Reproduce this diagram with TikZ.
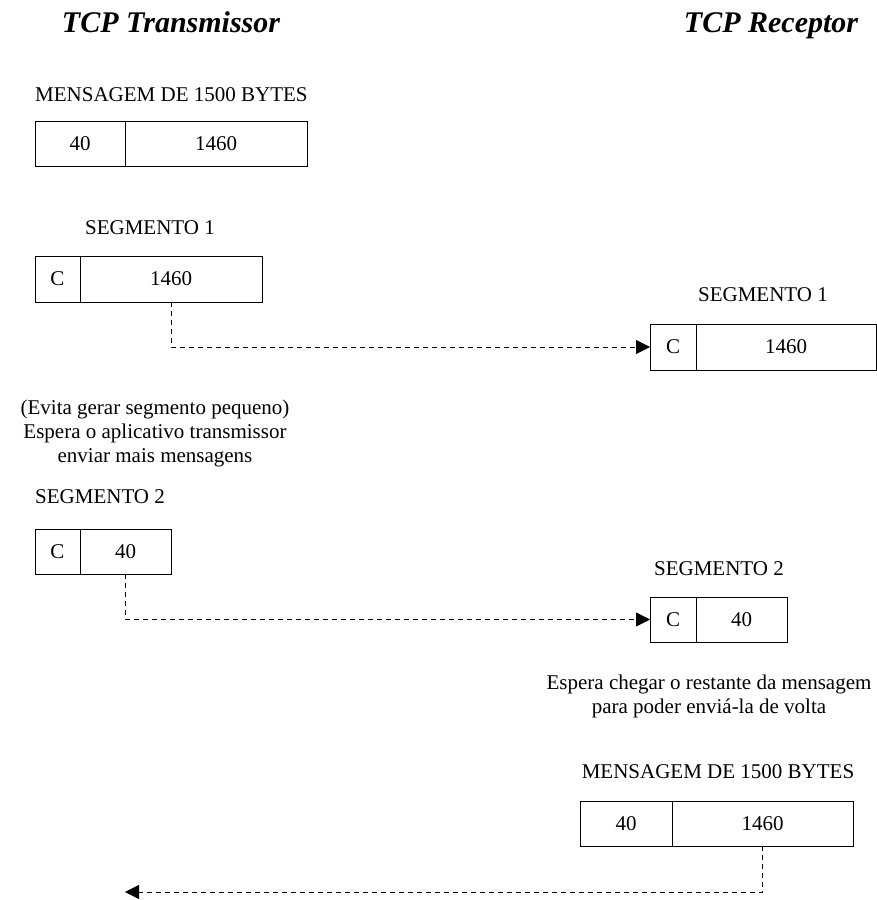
\documentclass[tikz,border=0pt]{standalone}
\usepackage{fontspec}
\setmainfont{Liberation Serif}
\usetikzlibrary{arrows.meta}
\begin{document}
\begin{tikzpicture}[x=1pt,y=-1pt,
  txt/.style={font=\fontsize{21}{24}\selectfont, inner sep=0pt, align=center},
  title/.style={font=\fontsize{30}{36}\selectfont\bfseries\itshape, inner sep=0pt, anchor=base},
  cell/.style={draw, line width=0.8pt, rectangle, inner sep=0pt, outer sep=0pt,
    font=\fontsize{21}{24}\selectfont, anchor=north west},
  flow/.style={draw, line width=0.8pt, dash pattern=on 5pt off 4pt,
    -{Triangle[length=14pt,width=14pt]}}
]
\useasboundingbox (0,0) rectangle (877,900);

% titles
\node[title] (tt) at (171,32) {TCP Transmissor};
\node[title] (tr) at (771,32) {TCP Receptor};

% transmitter message
\node[txt, anchor=west] (lm1) at (35,95) {MENSAGEM DE 1500 BYTES};
\node[cell, minimum width=90pt, minimum height=45pt] (m1a) at (35,121) {40};
\node[cell, minimum width=182pt, minimum height=45pt] (m1b) at (125,121) {1460};

% transmitter segment 1
\node[txt] (ls1t) at (150,228) {SEGMENTO 1};
\node[cell, minimum width=45pt, minimum height=46pt] (s1ta) at (35,256) {C};
\node[cell, minimum width=182pt, minimum height=46pt] (s1tb) at (80,256) {1460};

% receiver segment 1
\node[txt] (ls1r) at (763,295) {SEGMENTO 1};
\node[cell, minimum width=46pt, minimum height=46pt] (s1ra) at (650,324) {C};
\node[cell, minimum width=180pt, minimum height=46pt] (s1rb) at (696,324) {1460};

\draw[flow] (s1tb.south) |- (s1ra.west);

% note
\node[txt] (note1) at (155,433) {(Evita gerar segmento pequeno)\\Espera o aplicativo transmissor\\enviar mais mensagens};

% transmitter segment 2
\node[txt, anchor=west] (ls2t) at (35,497) {SEGMENTO 2};
\node[cell, minimum width=45pt, minimum height=45pt] (s2ta) at (35,529) {C};
\node[cell, minimum width=91pt, minimum height=45pt] (s2tb) at (80,529) {40};

% receiver segment 2
\node[txt] (ls2r) at (719,569) {SEGMENTO 2};
\node[cell, minimum width=46pt, minimum height=45pt] (s2ra) at (650,597) {C};
\node[cell, minimum width=91pt, minimum height=45pt] (s2rb) at (696,597) {40};

\draw[flow] (s2tb.south) |- (s2ra.west);

% note 2
\node[txt] (note2) at (709,696) {Espera chegar o restante da mensagem\\para poder envi\'a-la de volta};

% receiver message
\node[txt] (lm2) at (718,772) {MENSAGEM DE 1500 BYTES};
\node[cell, minimum width=92pt, minimum height=45pt] (m2a) at (580,801) {40};
\node[cell, minimum width=181pt, minimum height=45pt] (m2b) at (672,801) {1460};

\coordinate (end3) at (125,892);
\draw[flow] (m2b.south) |- (end3);
\end{tikzpicture}
\end{document}
